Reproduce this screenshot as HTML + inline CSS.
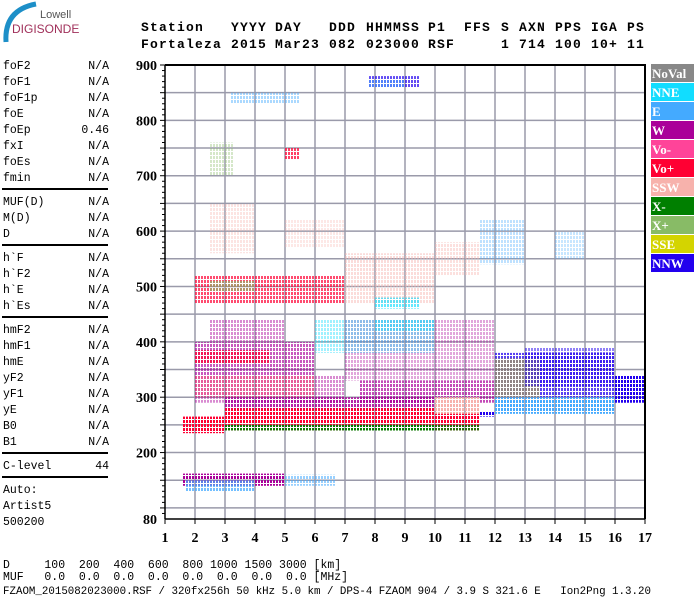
<!DOCTYPE html>
<html><head><meta charset="utf-8"><style>
body{margin:0;background:#fff;width:700px;height:600px;overflow:hidden;position:relative;font-family:"Liberation Mono",monospace;}
.t{position:absolute;white-space:pre;color:#000;}
.hd{font-weight:bold;font-size:13px;letter-spacing:1.2px;}
.lp{font-size:11.5px;line-height:16px;}
.bt{font-size:11.5px;}
</style></head><body>
<div style="position:absolute;left:0;top:0;width:110px;height:45px;">
<svg width="110" height="45"><path d="M6 42 Q4 10 36 4" stroke="#1d8fc8" stroke-width="5" fill="none"/></svg>
<div class="t" style="left:40px;top:9px;font-family:'Liberation Sans',sans-serif;font-size:11px;color:#555;">Lowell</div>
<div class="t" style="left:12px;top:22px;font-family:'Liberation Sans',sans-serif;font-size:12px;color:#a0305a;">DIGISONDE</div>
</div>
<div id="hdr"></div>
<div id="lp"></div>
<div class="t bt" style="left:3px;top:559px;">D     100  200  400  600  800 1000 1500 3000 [km]</div>
<div class="t bt" style="left:3px;top:571px;">MUF   0.0  0.0  0.0  0.0  0.0  0.0  0.0  0.0 [MHz]</div>
<div class="t bt" style="left:3px;top:586px;font-size:10.8px;">FZAOM_2015082023000.RSF / 320fx256h 50 kHz 5.0 km / DPS-4 FZAOM 904 / 3.9 S 321.6 E   Ion2Png 1.3.20</div>
<svg id="ch" width="700" height="600" style="position:absolute;left:0;top:0;"></svg>
<script>
const xTicks=[1,2,3,4,5,6,7,8,9,10,11,12,13,14,15,16,17];
const yTicks=[900,800,700,600,500,400,300,200,80];
const legendNames=["NoVal","NNE","E","W","Vo-","Vo+","SSW","X-","X+","SSE","NNW"];
const legendColors=["#888888","#11ddff","#44aaff","#aa0099","#ff4499","#ff0033","#f7b2ac","#007f00","#88bb66","#d4d400","#2200ee"];
// echo clusters: freq range, height range, colour index, density
const cF0=[2.0,7.0,2.0,1.6,1.7,5.0,1.6,3.0,3.0,7.5,10.0,11.5,12.0,12.0,12.0,16.0,13.0,2.0,2.0,2.5,6.0,8.0,2.0,2.5,7.0,8.0,2.5,5.0,11.5,14.0,3.2,7.8,7.8,5.0,2.5,3.0,7.0,10.0];
const cF1=[7.0,12.0,6.0,5.0,4.0,6.7,3.0,11.5,11.5,12.0,11.5,12.0,16.0,16.0,13.5,17.0,16.0,6.0,4.5,5.0,10.0,10.0,7.0,4.0,10.0,9.5,4.0,7.0,13.0,15.0,5.5,9.5,9.0,5.5,3.3,10.0,11.5,11.5];
const cH0=[290,330,300,140,130,140,235,240,280,290,270,265,270,300,300,290,320,340,360,400,380,420,470,490,470,460,560,570,540,550,830,860,860,730,700,240,240,520];
const cH1=[340,440,340,162,150,160,265,282,300,330,300,275,300,380,370,340,390,400,385,440,440,440,520,510,560,480,650,620,620,600,850,880,875,750,760,250,250,580];
const cCol=[3,3,5,3,2,2,5,5,3,3,6,10,2,10,9,10,10,3,5,3,1,1,5,8,6,1,6,6,2,2,2,10,2,5,8,7,7,6];
const cDen=[0.3,0.2,0.2,0.9,0.6,0.4,0.9,0.95,0.7,0.55,0.9,0.9,0.95,0.6,0.3,0.85,0.35,0.5,0.6,0.3,0.25,0.3,0.55,0.5,0.3,0.5,0.2,0.15,0.2,0.15,0.3,0.55,0.4,0.6,0.2,0.8,0.7,0.25];
const NS='http://www.w3.org/2000/svg';
const svg=document.getElementById('ch');
const X0=165,X1=645,Y0=65,Y1=519;
const fx=f=>X0+(f-1)*(X1-X0)/16;
const hy=h=>Y0+(900-h)*(Y1-Y0)/820;
function mk(tag,a,p){const e=document.createElementNS(NS,tag);for(const k in a)e.setAttribute(k,a[k]);(p||svg).appendChild(e);return e;}
const defs=mk('defs',{});
legendColors.forEach((c,i)=>{const p=mk('pattern',{id:'p'+i,width:3,height:4,patternUnits:'userSpaceOnUse'},defs);mk('rect',{x:0,y:0,width:2,height:3,fill:c},p);});
// grid
for(let h=850;h>=100;h-=50){const l=mk('line',{x1:X0,x2:X1,y1:hy(h),y2:hy(h),stroke:'#9a9aaa','stroke-width':1.5});

}
xTicks.slice(1,-1).forEach(f=>{const l=mk('line',{x1:fx(f),x2:fx(f),y1:Y0,y2:Y1,stroke:'#9a9aaa','stroke-width':1.5});

});
// clusters
cF0.forEach((f,i)=>{const r=mk('rect',{x:fx(f),y:hy(cH1[i]),width:fx(cF1[i])-fx(f),height:hy(cH0[i])-hy(cH1[i]),fill:'url(#p'+cCol[i]+')',opacity:Math.min(1,cDen[i]+0.15)});

});
// frame/axes
mk('line',{x1:X0,x2:X1+1,y1:Y0,y2:Y0,stroke:'#000','stroke-width':2});
mk('line',{x1:X1,x2:X1,y1:Y0,y2:Y1,stroke:'#000','stroke-width':2});
mk('line',{x1:X0,x2:X0,y1:Y0,y2:Y1,stroke:'#000','stroke-width':1.5});
mk('line',{x1:X0,x2:X1,y1:Y1,y2:Y1,stroke:'#000','stroke-width':1.5});
for(let h=90;h<=900;h+=10){mk('line',{x1:X0-(h%50==0?5:3),x2:X0,y1:hy(h),y2:hy(h),stroke:'#000','stroke-width':1});}
yTicks.forEach(h=>{const t=mk('text',{x:X0-8,y:hy(h)+5,'text-anchor':'end','font-family':'Liberation Serif,serif','font-weight':'bold','font-size':14});t.textContent=h;

});
xTicks.forEach(f=>{mk('line',{x1:fx(f),x2:fx(f),y1:Y1,y2:Y1+5,stroke:'#000'});const t=mk('text',{x:fx(f),y:542,'text-anchor':'middle','font-family':'Liberation Serif,serif','font-weight':'bold','font-size':14});t.textContent=f;

});
// legend
legendNames.forEach((n,i)=>{const g=mk('g',{});


mk('rect',{x:651,y:64+i*19,width:43,height:18,fill:legendColors[i]},g);
const t=mk('text',{x:652,y:78+i*19,fill:'#fff','font-family':'Liberation Serif,serif','font-weight':'bold','font-size':13},g);t.textContent=n;});
// header
const hx=[141,231,275,329,366,428,464,501,519,555,591,627];
const h1=["Station","YYYY","DAY","DDD","HHMMSS","P1","FFS","S","AXN","PPS","IGA","PS"];
const h2=["Fortaleza","2015","Mar23","082","023000","RSF","","1","714","100","10+","11"];
const hd=document.getElementById('hdr');
hx.forEach((x,i)=>{[[h1,20],[h2,37]].forEach(([a,y])=>{if(!a[i])return;const d=document.createElement('div');d.className='t hd';d.style.left=x+'px';d.style.top=y+'px';d.textContent=a[i];


hd.appendChild(d);});});
// left panel
const lpNames=["foF2","foF1","foF1p","foE","foEp","fxI","foEs","fmin","|","MUF(D)","M(D)","D","|","h`F","h`F2","h`E","h`Es","|","hmF2","hmF1","hmE","yF2","yF1","yE","B0","B1","|","C-level","|","Auto:","Artist5","500200"];
const lpVals=["N/A","N/A","N/A","N/A","0.46","N/A","N/A","N/A","","N/A","N/A","N/A","","N/A","N/A","N/A","N/A","","N/A","N/A","N/A","N/A","N/A","N/A","N/A","N/A","","44","","","",""];
const lp=document.getElementById('lp');let y=59;
lpNames.forEach((n,i)=>{if(n=="|"){const s=document.createElement('div');s.style.cssText='position:absolute;left:2px;width:106px;height:1.5px;background:#000;top:'+(y+1)+'px';


lp.appendChild(s);y+=8;return;}
const a=document.createElement('div');a.className='t lp';a.style.left='3px';a.style.top=y+'px';a.textContent=n;


lp.appendChild(a);
if(lpVals[i]){const b=document.createElement('div');b.className='t lp';b.style.right=(700-109)+'px';b.style.top=y+'px';b.textContent=lpVals[i];


lp.appendChild(b);}
y+=16;});
</script>
</body></html>
